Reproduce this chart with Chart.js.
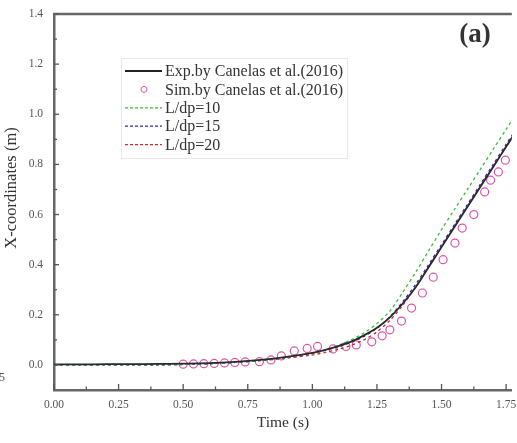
<!DOCTYPE html>
<html>
<head>
<meta charset="utf-8">
<script src="https://cdn.jsdelivr.net/npm/chart.js@4.4.1/dist/chart.umd.min.js"></script>
<style>
  html, body { margin: 0; padding: 0; background: #fff; }
  #wrap { width: 517px; height: 443px; position: relative; }
</style>
</head>
<body>
<div id="wrap"><canvas id="myChart" width="517" height="443"></canvas></div>
<script>
// time axis for the line series (s)
const lineTime = [0, 0.1, 0.2, 0.3, 0.4, 0.5, 0.6, 0.7, 0.8, 0.9, 1.0, 1.05, 1.1, 1.15, 1.2, 1.25, 1.3, 1.35, 1.4, 1.45, 1.5, 1.55, 1.6, 1.65, 1.7, 1.75, 1.8];
const expX  = [0.002, 0.002, 0.003, 0.003, 0.004, 0.005, 0.007, 0.012, 0.02, 0.032, 0.048, 0.06, 0.075, 0.093, 0.118, 0.148, 0.19, 0.245, 0.31, 0.39, 0.47, 0.55, 0.63, 0.71, 0.79, 0.87, 0.95];
const ld10X = [0, 0, 0, 0, 0, 0.002, 0.005, 0.01, 0.018, 0.03, 0.047, 0.06, 0.078, 0.1, 0.128, 0.165, 0.215, 0.29, 0.37, 0.455, 0.54, 0.62, 0.70, 0.78, 0.86, 0.94, 1.02];
const ld15X = [0, 0, 0, 0, 0, 0.002, 0.005, 0.01, 0.018, 0.03, 0.046, 0.058, 0.072, 0.09, 0.114, 0.146, 0.192, 0.252, 0.322, 0.4, 0.48, 0.56, 0.64, 0.72, 0.80, 0.88, 0.96];
const ld20X = [0, 0, 0, 0, 0, 0.002, 0.005, 0.01, 0.017, 0.027, 0.04, 0.05, 0.062, 0.078, 0.1, 0.132, 0.178, 0.238, 0.312, 0.392, 0.472, 0.552, 0.632, 0.712, 0.792, 0.872, 0.952];

// Canelas et al. (2016) simulation markers
const simTime = [0.50, 0.54, 0.58, 0.62, 0.66, 0.70, 0.74, 0.795, 0.84, 0.88, 0.93, 0.98, 1.02, 1.08, 1.13, 1.17, 1.23, 1.27, 1.30, 1.345, 1.384, 1.426, 1.468, 1.506, 1.552, 1.58, 1.625, 1.667, 1.69, 1.72, 1.747];
const simX    = [0.003, 0.004, 0.005, 0.006, 0.008, 0.01, 0.012, 0.013, 0.02, 0.036, 0.056, 0.066, 0.074, 0.064, 0.074, 0.08, 0.092, 0.116, 0.14, 0.175, 0.227, 0.287, 0.35, 0.42, 0.486, 0.546, 0.60, 0.69, 0.737, 0.77, 0.817];

const xTicks = [0, 0.125, 0.25, 0.375, 0.5, 0.625, 0.75, 0.875, 1.0, 1.125, 1.25, 1.375, 1.5, 1.625, 1.75];
const yTicks = [0, 0.1, 0.2, 0.3, 0.4, 0.5, 0.6, 0.7, 0.8, 0.9, 1.0, 1.1, 1.2, 1.3, 1.4];

const serif = "'Liberation Serif', 'DejaVu Serif', serif";

const pairs = (xs, ys) => xs.map((x, i) => ({ x: x, y: ys[i] }));
const isMajor = (v, step) => Math.abs(v / step - Math.round(v / step)) < 1e-6;

const legendItems = [
    { text: "Exp.by Canelas et al.(2016)", color: "#222", dash: [], type: "line" },
    { text: "Sim.by Canelas et al.(2016)", color: "#d8559f", dash: [], type: "circle" },
    { text: "L/dp=10", color: "#3dbb3d", dash: [3, 2], type: "line" },
    { text: "L/dp=15", color: "#2b2bb0", dash: [3, 2], type: "line" },
    { text: "L/dp=20", color: "#d42a2a", dash: [3, 2], type: "line" },
];

const decorPlugin = {
    id: "decor",
    afterDraw(chart) {
        const ctx = chart.ctx;
        const area = chart.chartArea;
        const xs = chart.scales.x;
        const ys = chart.scales.y;
        ctx.save();
        // top frame
        ctx.strokeStyle = "#666";
        ctx.lineWidth = 2.5;
        ctx.beginPath();
        ctx.moveTo(area.left - 1, area.top);
        ctx.lineTo(area.right, area.top);
        ctx.stroke();
        // inward tick marks
        ctx.lineWidth = 1.3;
        ctx.strokeStyle = "#555";
        xTicks.forEach((v) => {
            const px = xs.getPixelForValue(v);
            const len = isMajor(v, 0.25) ? 6 : 3.5;
            ctx.beginPath();
            ctx.moveTo(px, area.bottom);
            ctx.lineTo(px, area.bottom - len);
            ctx.stroke();
        });
        yTicks.forEach((v) => {
            const py = ys.getPixelForValue(v);
            const len = isMajor(v, 0.2) ? 5 : 3;
            ctx.beginPath();
            ctx.moveTo(area.left, py);
            ctx.lineTo(area.left + len, py);
            ctx.stroke();
        });

        // y axis title
        ctx.save();
        ctx.translate(12, 188);
        ctx.rotate(-Math.PI / 2);
        ctx.fillStyle = "#333";
        ctx.font = "16.5px " + serif;
        ctx.textAlign = "center";
        ctx.textBaseline = "middle";
        ctx.fillText("X-coordinates (m)", 0, 0);
        ctx.restore();

        // legend box
        ctx.strokeStyle = "#e8e8e8";
        ctx.lineWidth = 1;
        ctx.strokeRect(121.5, 58.5, 226, 100);
        ctx.font = "16px " + serif;
        ctx.textBaseline = "middle";
        ctx.textAlign = "left";
        legendItems.forEach((it, i) => {
            const y = 71 + i * 18.4;
            ctx.strokeStyle = it.color;
            if (it.type === "line") {
                ctx.lineWidth = it.dash.length ? 1.3 : 1.8;
                ctx.setLineDash(it.dash);
                ctx.beginPath();
                ctx.moveTo(125, y);
                ctx.lineTo(162, y);
                ctx.stroke();
                ctx.setLineDash([]);
            } else {
                ctx.lineWidth = 1;
                ctx.beginPath();
                ctx.arc(144, y, 3, 0, Math.PI * 2);
                ctx.stroke();
            }
            ctx.fillStyle = "#333";
            ctx.fillText(it.text, 165, y + 1);
        });

        // panel label
        ctx.fillStyle = "#333";
        ctx.font = "bold 27px " + serif;
        ctx.textAlign = "center";
        ctx.textBaseline = "middle";
        ctx.fillText("(a)", 475, 35);

        // cut-off label of neighbouring panel
        ctx.font = "12px " + serif;
        ctx.fillStyle = "#555";
        ctx.textAlign = "right";
        ctx.fillText("1.75", 5, 378);
        ctx.restore();
    },
};

const renderChart = () => {
    const ctx = document.getElementById("myChart");
    new Chart(ctx, {
        type: "scatter",
        data: {
            datasets: [
                {
                    label: "Exp.by Canelas et al.(2016)",
                    data: pairs(lineTime, expX),
                    showLine: true,
                    borderColor: "#2a2a2a",
                    borderWidth: 1.8,
                    pointRadius: 0,
                    tension: 0.3,
                },
                {
                    label: "L/dp=10",
                    data: pairs(lineTime, ld10X),
                    showLine: true,
                    borderColor: "#3dbb3d",
                    borderWidth: 1.3,
                    borderDash: [3, 3],
                    pointRadius: 0,
                    tension: 0.3,
                },
                {
                    label: "L/dp=15",
                    data: pairs(lineTime, ld15X),
                    showLine: true,
                    borderColor: "#2b2bb0",
                    borderWidth: 1.3,
                    borderDash: [3, 3],
                    pointRadius: 0,
                    tension: 0.3,
                },
                {
                    label: "L/dp=20",
                    data: pairs(lineTime, ld20X),
                    showLine: true,
                    borderColor: "#d42a2a",
                    borderWidth: 1.3,
                    borderDash: [3, 3],
                    pointRadius: 0,
                    tension: 0.3,
                },
                {
                    label: "Sim.by Canelas et al.(2016)",
                    data: pairs(simTime, simX),
                    showLine: false,
                    pointStyle: "circle",
                    pointRadius: 4,
                    pointBorderWidth: 1.2,
                    pointBorderColor: "#dd55a8",
                    pointBackgroundColor: "rgba(0,0,0,0)",
                },
            ],
        },
        options: {
            responsive: false,
            animation: false,
            layout: { padding: { top: 14, left: 0, right: 0, bottom: 0 } },
            plugins: {
                legend: { display: false },
                tooltip: { enabled: false },
            },
            scales: {
                x: {
                    type: "linear",
                    min: 0,
                    max: 1.772,
                    afterBuildTicks: (scale) => {
                        scale.ticks = xTicks.map((v) => ({ value: v }));
                    },
                    afterFit: (scale) => {
                        scale.height = 53;
                        scale.paddingLeft = 0;
                        scale.paddingRight = 0;
                    },
                    ticks: {
                        autoSkip: false,
                        maxRotation: 0,
                        padding: 8,
                        color: "#555",
                        font: { family: serif, size: 11.5 },
                        callback: (v) => (isMajor(v, 0.25) ? v.toFixed(2) : ""),
                    },
                    grid: { display: false, drawTicks: false },
                    border: { display: true, color: "#666", width: 2.5 },
                    title: {
                        display: true,
                        text: "Time (s)",
                        color: "#333",
                        font: { family: serif, size: 15.5 },
                        padding: { top: 0, bottom: 11 },
                    },
                },
                y: {
                    type: "linear",
                    min: -0.1,
                    max: 1.4,
                    afterBuildTicks: (scale) => {
                        scale.ticks = yTicks.map((v) => ({ value: v }));
                    },
                    afterFit: (scale) => {
                        scale.width = 54;
                        scale.paddingTop = 0;
                        scale.paddingBottom = 0;
                    },
                    ticks: {
                        autoSkip: false,
                        padding: 11,
                        color: "#555",
                        font: { family: serif, size: 11.5 },
                        callback: (v) => (isMajor(v, 0.2) ? v.toFixed(1) : ""),
                    },
                    grid: { display: false, drawTicks: false },
                    border: { display: true, color: "#666", width: 2.5 },
                },
            },
        },
        plugins: [decorPlugin],
    });
};

renderChart();
</script>
</body>
</html>
